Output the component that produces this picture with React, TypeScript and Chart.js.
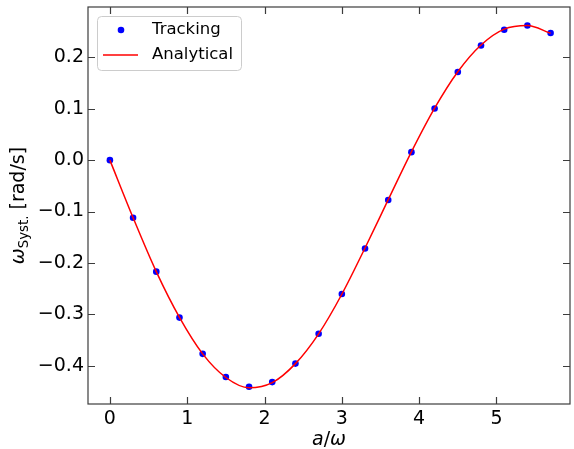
import React, { useEffect, useRef } from "react";
import { Chart, registerables } from "chart.js";

Chart.register(...registerables);

const xValues = [0, 0.3, 0.6, 0.9, 1.2, 1.5, 1.8, 2.1, 2.4, 2.7, 3.0, 3.3, 3.6, 3.9, 4.2, 4.5, 4.8, 5.1, 5.4, 5.7];
const trackingValues = [0.0, -0.112, -0.217, -0.3065, -0.377, -0.422, -0.441, -0.432, -0.396, -0.338, -0.2605, -0.172, -0.0775, 0.0155, 0.1005, 0.1715, 0.2232, 0.2537, 0.262, 0.2473];
const analyticalValues = [0.0, -0.112, -0.217, -0.306, -0.377, -0.423, -0.443, -0.433, -0.396, -0.338, -0.261, -0.171, -0.077, 0.016, 0.101, 0.172, 0.224, 0.255, 0.262, 0.247];
const xTickValues = [0, 1, 2, 3, 4, 5];
const yTickValues = [-0.4, -0.3, -0.2, -0.1, 0.0, 0.1, 0.2];
const xRange = [-0.283, 5.951];
const yRange = [-0.4746, 0.298];
const seriesLabels = ["Tracking", "Analytical"];

const FONT = '"DejaVu Sans", "Liberation Sans", sans-serif';

const decorPlugin = {
  id: "decor",
  afterDraw(chart: any) {
    const { ctx, chartArea, scales } = chart;
    const { left, right, top, bottom } = chartArea;
    const x = scales.x;
    const y = scales.y;
    ctx.save();
    // frame
    ctx.strokeStyle = "#3c3c3c";
    ctx.lineWidth = 1.2;
    ctx.strokeRect(left, top, right - left, bottom - top);
    // inward ticks
    const tl = 7;
    ctx.beginPath();
    xTickValues.forEach((v) => {
      const px = Math.round(x.getPixelForValue(v)) + 0.5;
      ctx.moveTo(px, bottom);
      ctx.lineTo(px, bottom - tl);
      ctx.moveTo(px, top);
      ctx.lineTo(px, top + tl);
    });
    yTickValues.forEach((v) => {
      const py = Math.round(y.getPixelForValue(v)) + 0.5;
      ctx.moveTo(left, py);
      ctx.lineTo(left + tl, py);
      ctx.moveTo(right, py);
      ctx.lineTo(right - tl, py);
    });
    ctx.stroke();

    // legend
    const bx = left + 9;
    const by = top + 9;
    const bw = 144;
    const bh = 54;
    ctx.fillStyle = "rgba(255,255,255,0.8)";
    ctx.strokeStyle = "#cccccc";
    ctx.lineWidth = 1;
    ctx.beginPath();
    if (ctx.roundRect) ctx.roundRect(bx + 0.5, by + 0.5, bw, bh, 4);
    else ctx.rect(bx + 0.5, by + 0.5, bw, bh);
    ctx.fill();
    ctx.stroke();
    ctx.fillStyle = "#0000ff";
    ctx.beginPath();
    ctx.arc(bx + 24, by + 14, 3.3, 0, Math.PI * 2);
    ctx.fill();
    ctx.strokeStyle = "#ff0000";
    ctx.lineWidth = 1.5;
    ctx.beginPath();
    ctx.moveTo(bx + 6, by + 39);
    ctx.lineTo(bx + 41, by + 39);
    ctx.stroke();
    ctx.fillStyle = "#000000";
    ctx.font = `16.5px ${FONT}`;
    ctx.textAlign = "left";
    ctx.textBaseline = "middle";
    ctx.fillText(seriesLabels[0], bx + 55, by + 14);
    ctx.fillText(seriesLabels[1], bx + 55, by + 39);

    // x label: a/ω
    const cx = (left + right) / 2;
    const baseY = 445;
    ctx.textBaseline = "alphabetic";
    const itFont = `italic 19px ${FONT}`;
    const rmFont = `19px ${FONT}`;
    ctx.font = itFont;
    const wa = ctx.measureText("a").width;
    const ww = ctx.measureText("ω").width;
    ctx.font = rmFont;
    const ws = ctx.measureText("/").width;
    let sx = cx - (wa + ws + ww) / 2;
    ctx.font = itFont;
    ctx.fillText("a", sx, baseY);
    sx += wa;
    ctx.font = rmFont;
    ctx.fillText("/", sx, baseY);
    sx += ws;
    ctx.font = itFont;
    ctx.fillText("ω", sx, baseY);

    // y label: ω_Syst. [rad/s]
    const cy = (top + bottom) / 2;
    ctx.save();
    ctx.translate(24, cy);
    ctx.rotate(-Math.PI / 2);
    const subFont = `13.3px ${FONT}`;
    ctx.font = itFont;
    const w1 = ctx.measureText("ω").width;
    ctx.font = subFont;
    const w2 = ctx.measureText("Syst.").width;
    ctx.font = rmFont;
    const w3 = ctx.measureText(" [rad/s]").width;
    let tx = -(w1 + w2 + w3) / 2;
    ctx.font = itFont;
    ctx.fillText("ω", tx, 0);
    tx += w1;
    ctx.font = subFont;
    ctx.fillText("Syst.", tx, 3.5);
    tx += w2;
    ctx.font = rmFont;
    ctx.fillText(" [rad/s]", tx, 0);
    ctx.restore();

    ctx.restore();
  },
};

export default function App() {
  const canvasRef = useRef<HTMLCanvasElement | null>(null);

  useEffect(() => {
    document.body.style.margin = "0";
    const canvas = canvasRef.current;
    if (!canvas) return;
    const chart = new Chart(canvas, {
      type: "scatter",
      data: {
        datasets: [
          {
            label: seriesLabels[1],
            data: xValues.map((v, i) => ({ x: v, y: analyticalValues[i] })),
            showLine: true,
            borderColor: "#ff0000",
            borderWidth: 1.5,
            pointRadius: 0,
            tension: 0.4,
            cubicInterpolationMode: "monotone",
            fill: false,
          },
          {
            label: seriesLabels[0],
            data: xValues.map((v, i) => ({ x: v, y: trackingValues[i] })),
            showLine: false,
            pointRadius: 3.3,
            pointBackgroundColor: "#0000ff",
            pointBorderColor: "#0000ff",
            pointBorderWidth: 0,
          },
        ],
      },
      options: {
        responsive: false,
        animation: false,
        devicePixelRatio: 1,
        layout: { padding: { top: 7, right: 1, left: 0, bottom: 0 } },
        plugins: {
          legend: { display: false },
          tooltip: { enabled: false },
          title: { display: false },
        },
        scales: {
          x: {
            type: "linear",
            min: xRange[0],
            max: xRange[1],
            grid: { display: false, drawTicks: false },
            border: { display: false },
            afterFit: (s: any) => {
              s.height = 45;
              s.paddingLeft = 0;
              s.paddingRight = 0;
            },
            afterBuildTicks: (s: any) => {
              s.ticks = xTickValues.map((v) => ({ value: v }));
            },
            ticks: {
              padding: 4,
              color: "#000",
              font: { family: FONT, size: 19 },
              maxRotation: 0,
              callback: (v: any) => String(Math.round(Number(v))),
            },
          },
          y: {
            type: "linear",
            min: yRange[0],
            max: yRange[1],
            grid: { display: false, drawTicks: false },
            border: { display: false },
            afterFit: (s: any) => {
              s.width = 88;
              s.paddingTop = 0;
              s.paddingBottom = 0;
            },
            afterBuildTicks: (s: any) => {
              s.ticks = yTickValues.map((v) => ({ value: v }));
            },
            ticks: {
              padding: 4,
              color: "#000",
              font: { family: FONT, size: 19 },
              callback: (v: any) => Number(v).toFixed(1).replace("-", "\u2212"),
            },
          },
        },
      },
      plugins: [decorPlugin],
    });
    return () => chart.destroy();
  }, []);

  return (
    <div style={{ width: 574, height: 449 }}>
      <canvas ref={canvasRef} width={574} height={449} style={{ display: "block" }} />
    </div>
  );
}
